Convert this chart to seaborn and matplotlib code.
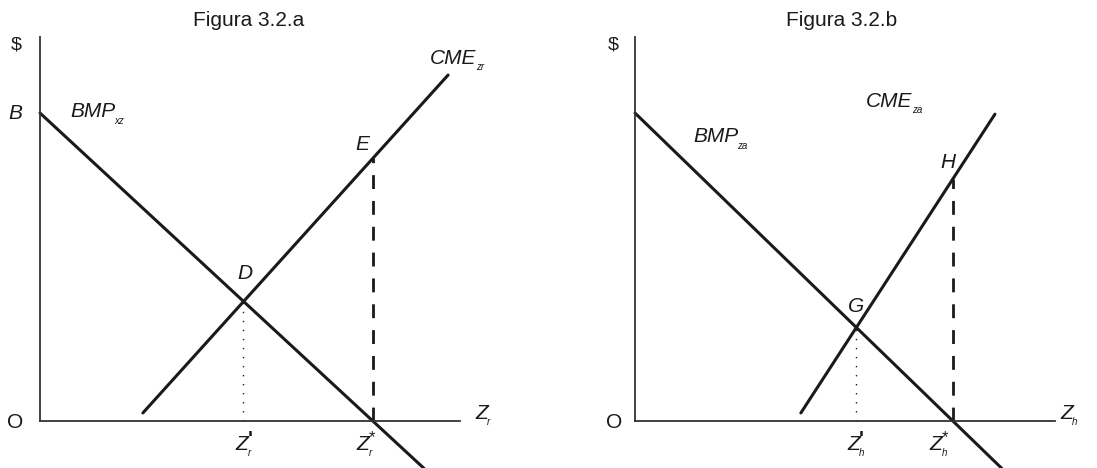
import matplotlib
matplotlib.use('Agg')
import matplotlib.pyplot as plt
import seaborn as sns

# panel a: values in chart units (origin at O)
bmp_a_x = [0.0, 10.03]
bmp_a_y = [8.02, -1.26]
cme_a_x = [2.68, 10.63]
cme_a_y = [0.21, 9.01]
eq_a = (5.30, 3.12)      # D
opt_a = (8.67, 6.84)     # E, Z*

# panel b
bmp_b_x = [0.0, 9.56]
bmp_b_y = [8.02, -1.24]
cme_b_x = [4.32, 9.375]
cme_b_y = [0.21, 7.99]
eq_b = (5.76, 2.44)      # G
opt_b = (8.28, 6.31)     # H, Z*

titles = ['Figura 3.2.a', 'Figura 3.2.b']

sns.set_style('white')
plt.rcParams['font.family'] = ['Liberation Sans', 'DejaVu Sans']
plt.rcParams['text.color'] = '#1a1a1a'

INK = '#1a1a1a'


def label(ax, x, y, main, sub=None, sup=None, italic=True, size=15, ha='left'):
    t = ax.text(x, y, main, style='italic' if italic else 'normal', fontsize=size,
                ha=ha, va='center', clip_on=False)
    if sub:
        ax.annotate(sub, xy=(1, 0), xycoords=t, xytext=(-0.5, 0.5), textcoords='offset points',
                    style='italic', fontsize=7, ha='left', va='center')
    if sup == "'":
        ax.annotate(sup, xy=(1, 1), xycoords=t, xytext=(-0.5, -3.5), textcoords='offset points',
                    fontsize=15, fontweight='bold', ha='left', va='center')
    elif sup:
        ax.annotate(sup, xy=(1, 1), xycoords=t, xytext=(-0.5, -2.5), textcoords='offset points',
                    fontsize=12, ha='left', va='center')
    return t


def panel(ax, bmp_x, bmp_y, cme_x, cme_y, eq, opt):
    sns.lineplot(x=bmp_x, y=bmp_y, ax=ax, color=INK, lw=2.2, sort=False, estimator=None)
    sns.lineplot(x=cme_x, y=cme_y, ax=ax, color=INK, lw=2.2, sort=False, estimator=None)
    ax.plot([opt[0], opt[0]], [0, opt[1]], color=INK, lw=2.0, dashes=(5, 4.3))
    ax.plot([eq[0], eq[0]], [0, eq[1]], color=INK, lw=1.0, linestyle=(0, (1, 5.5)))
    for ln in ax.lines:
        ln.set_clip_on(False)
    ax.set_xlim(0, 10.94)
    ax.set_ylim(0, 10)
    ax.set_xticks([])
    ax.set_yticks([])
    for s in ['top', 'right']:
        ax.spines[s].set_visible(False)
    for s in ['left', 'bottom']:
        ax.spines[s].set_color('#333333')
        ax.spines[s].set_linewidth(1.3)


fig = plt.figure(figsize=(10.97, 4.68), dpi=100)
W, H = 1097, 468
ax_a = fig.add_axes([40 / W, (H - 421) / H, 420 / W, 384 / H])
ax_b = fig.add_axes([635 / W, (H - 421) / H, 420 / W, 384 / H])

panel(ax_a, bmp_a_x, bmp_a_y, cme_a_x, cme_a_y, eq_a, opt_a)
panel(ax_b, bmp_b_x, bmp_b_y, cme_b_x, cme_b_y, eq_b, opt_b)

# panel a labels
label(ax_a, -0.62, 9.79, '$', italic=False, size=14, ha='center')
label(ax_a, -0.65, 8.02, 'B', ha='center')
label(ax_a, 0.78, 8.05, 'BMP', sub='xz')
label(ax_a, 10.16, 9.45, 'CME', sub='zr')
label(ax_a, 8.39, 7.19, 'E', ha='center')
label(ax_a, 5.34, 3.83, 'D', ha='center')
label(ax_a, -0.65, -0.05, 'O', italic=False, ha='center')
label(ax_a, 11.33, 0.2, 'Z', sub='r')
label(ax_a, 5.1, -0.6, 'Z', sub='r', sup="'")
label(ax_a, 8.25, -0.6, 'Z', sub='r', sup='*')

# panel b labels
label(ax_b, -0.57, 9.79, '$', italic=False, size=14, ha='center')
label(ax_b, 1.51, 7.40, 'BMP', sub='za')
label(ax_b, 6.02, 8.33, 'CME', sub='za')
label(ax_b, 8.15, 6.72, 'H', ha='center')
label(ax_b, 5.76, 2.97, 'G', ha='center')
label(ax_b, -0.55, -0.05, 'O', italic=False, ha='center')
label(ax_b, 11.07, 0.2, 'Z', sub='h')
label(ax_b, 5.52, -0.6, 'Z', sub='h', sup="'")
label(ax_b, 7.68, -0.6, 'Z', sub='h', sup='*')

fig.text(249 / W, 1 - 21 / H, titles[0], fontsize=15, ha='center', va='center')
fig.text(842 / W, 1 - 21 / H, titles[1], fontsize=15, ha='center', va='center')

fig.savefig('out.png', dpi=100)
